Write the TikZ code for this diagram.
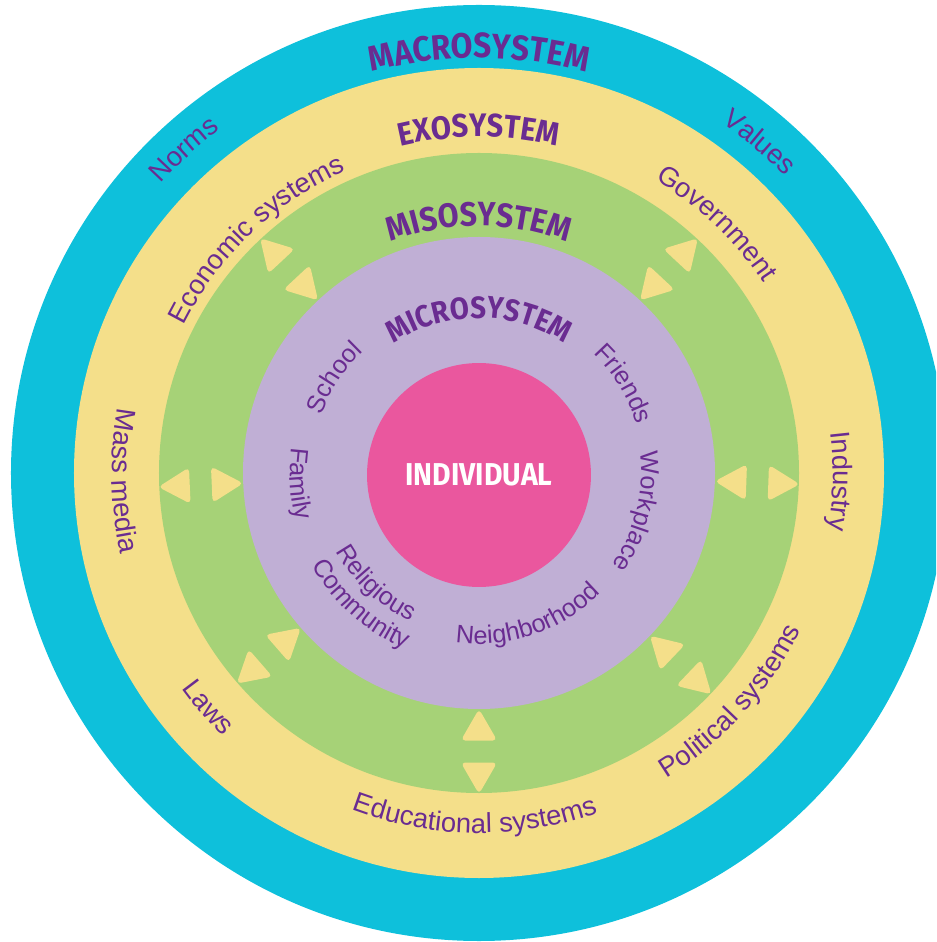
\documentclass[tikz,border=0pt]{standalone}
\usepackage{fontspec}
\setmainfont{Liberation Sans}
\newfontfamily\headfont{Fira Sans}[FakeStretch=0.9]
\usetikzlibrary{decorations.text}
\definecolor{macrocyan}{HTML}{0EC0DB}
\definecolor{exoyellow}{HTML}{F4DF8A}
\definecolor{misogreen}{HTML}{A6D277}
\definecolor{microlilac}{HTML}{C0AFD5}
\definecolor{corepink}{HTML}{EA579E}
\definecolor{labelpurple}{HTML}{6A2C91}

\newcommand{\lbfont}{\fontsize{15.6}{15.6}\selectfont\color{labelpurple}}
\newcommand{\smfont}{\fontsize{14.4}{14.4}\selectfont\color{labelpurple}}
\newcommand{\hdfont}{\headfont\bfseries\color{labelpurple}}
% clockwise arc: letters stand outward, counter-clockwise arc: letters stand inward
\newcommand{\cwtext}[3]{\path[decorate, decoration={text along path, text align=center, text={#3}}] (#1+60:#2) arc[start angle=#1+60, end angle=#1-60, radius=#2];}
\newcommand{\ccwtext}[3]{\path[decorate, decoration={text along path, text align=center, text={#3}}] (#1-60:#2) arc[start angle=#1-60, end angle=#1+60, radius=#2];}

\begin{document}
\begin{tikzpicture}[x=0.02cm, y=0.02cm]
\tikzstyle{tip} = [fill=exoyellow, rounded corners=2.5pt]
\tikzstyle{core} = [circle, fill=corepink, minimum size=4.48cm, text=white, font=\headfont\bfseries\fontsize{18}{18}\selectfont]

\useasboundingbox (-479,-469) rectangle (457,473);
\clip (-479,-469) rectangle (457,473);

\fill[macrocyan] (0,0) circle[radius=468];
\fill[exoyellow] (0,0) circle[radius=405];
\fill[misogreen] (0,0) circle[radius=320];
\fill[microlilac] (0,0) circle[radius=236];
\node (individual) [core] at (0,-2) {INDIVIDUAL};

\foreach \a in {133,47,182.5,-2,221,-43.6,270} {
  \fill[tip, shift={(\a:300)}] (\a:21) -- (\a+120:21) -- (\a+240:21) -- cycle;
  \fill[tip, shift={(\a:257)}] (\a+180:21) -- (\a+300:21) -- (\a+60:21) -- cycle;
}

\cwtext{90}{415}{|\hdfont\fontsize{20}{20}\selectfont|MACROSYSTEM}
\cwtext{90}{336}{|\hdfont\fontsize{18.5}{18.5}\selectfont|EXOSYSTEM}
\cwtext{90}{247}{|\hdfont\fontsize{19.2}{19.2}\selectfont|MISOSYSTEM}
\cwtext{90}{155}{|\hdfont\fontsize{17.5}{17.5}\selectfont|MICROSYSTEM}

\cwtext{132.4}{430}{|\lbfont|Norms}
\cwtext{49.7}{426}{|\lbfont|Values}
\cwtext{133.6}{330}{|\lbfont|Economic systems}
\cwtext{46.4}{342}{|\lbfont|Government}
\ccwtext{181.3}{367}{|\lbfont|Mass media}
\cwtext{-1.3}{354}{|\lbfont|Industry}
\ccwtext{220.9}{367}{|\lbfont|Laws}
\ccwtext{269.3}{360}{|\lbfont|Educational systems}
\ccwtext{-42.2}{358}{|\lbfont|Political systems}

\cwtext{146.7}{168}{|\smfont|School}
\cwtext{31.6}{165}{|\smfont|Friends}
\ccwtext{183.5}{189}{|\smfont|Family}
\cwtext{-13.5}{162}{|\smfont|Workplace}
\ccwtext{227}{163}{|\smfont|Religious}
\ccwtext{228}{191}{|\smfont|Community}
\ccwtext{-71.3}{171}{|\smfont|Neighborhood}

\end{tikzpicture}
\end{document}
